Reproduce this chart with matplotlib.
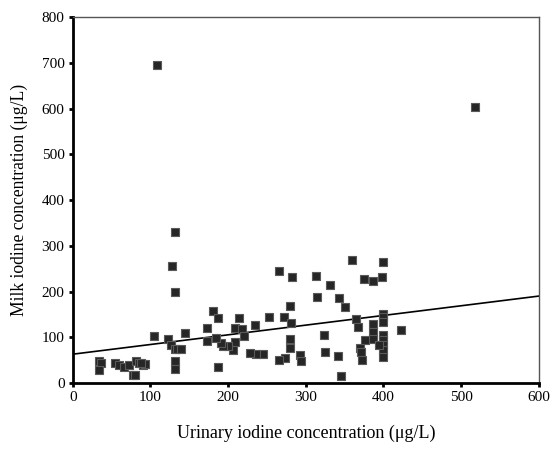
import numpy as np
import matplotlib.pyplot as plt

plt.rcParams['font.family'] = ['Liberation Serif', 'DejaVu Serif']

# urinary iodine (x) vs milk iodine (y)
urinary = [108, 518, 131, 128, 132, 359, 400, 265, 282, 313, 398, 375, 386,
           331, 315, 343, 351, 280, 181, 187, 214, 253, 272, 281, 234, 173,
           209, 218, 221, 365, 367, 400, 400, 400, 387, 387, 387, 400, 400,
           400, 400, 400, 394, 423, 323, 376, 370, 371, 373, 325, 342, 345,
           280, 280, 292, 294, 273, 265, 245, 236, 228, 209, 206, 200, 194,
           191, 185, 173, 187, 144, 123, 126, 131, 134, 139, 132, 131, 104,
           34, 36, 34, 54, 60, 66, 72, 77, 80, 81, 85, 90, 93, 88]
milk = [696, 604, 330, 255, 200, 269, 264, 245, 232, 235, 232, 227, 223,
        214, 188, 185, 166, 169, 158, 142, 142, 145, 145, 131, 126, 121,
        121, 118, 102, 139, 123, 151, 145, 133, 130, 112, 96, 104, 95,
        84, 73, 57, 82, 116, 104, 95, 77, 68, 51, 68, 60, 15,
        97, 76, 61, 49, 54, 51, 63, 63, 65, 90, 73, 80, 80,
        88, 99, 92, 34, 110, 97, 82, 75, 75, 75, 49, 31, 102,
        47, 44, 28, 44, 39, 36, 39, 18, 18, 47, 44, 39, 42, 44]

fit_x = [0, 600]
fit_y = [63, 190]

fig = plt.figure(figsize=(5.56, 4.49), dpi=100)
ax = fig.add_axes([0.131, 0.147, 0.838, 0.815])

ax.scatter(urinary, milk, marker='s', s=28, facecolor='#262626',
           edgecolor='#5a5a5a', linewidth=0.8, zorder=3)
ax.plot(fit_x, fit_y, color='black', linewidth=1.2, zorder=2)

ax.set_xlim(0, 600)
ax.set_ylim(0, 800)
ax.set_xticks(np.arange(0, 601, 100))
ax.set_yticks(np.arange(0, 801, 100))
ax.tick_params(direction='out', length=3, width=2, labelsize=11, pad=3)

for side in ['left', 'bottom']:
    ax.spines[side].set_linewidth(2)
for side in ['top', 'right']:
    ax.spines[side].set_linewidth(1)
    ax.spines[side].set_color('#555555')

ax.set_xlabel('Urinary iodine concentration (\u03bcg/L)', fontsize=13, labelpad=15)
ax.set_ylabel('Milk iodine concentration (\u03bcg/L)', fontsize=12.7, labelpad=10)

fig.savefig('out.png', dpi=100)
plt.close()
